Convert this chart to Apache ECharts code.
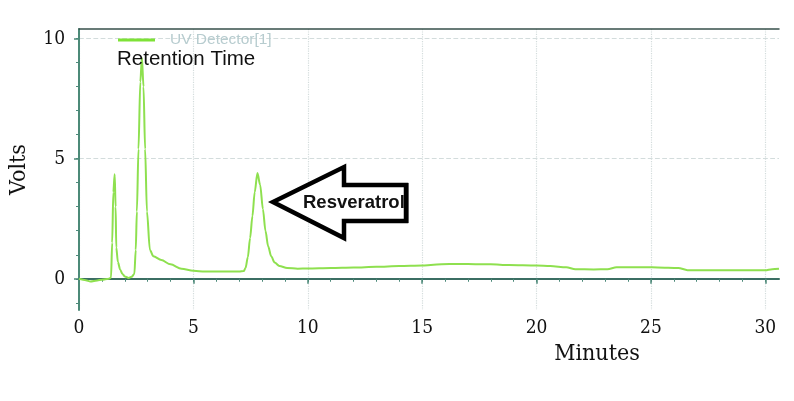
<!DOCTYPE html>
<html>
<head>
<meta charset="utf-8">
<script src="https://cdn.jsdelivr.net/npm/echarts@6/dist/echarts.min.js"></script>
<style>
  html, body { margin: 0; padding: 0; background: #fff; }
  #chart { width: 794px; height: 401px; }
</style>
</head>
<body>
<div id="chart"></div>
<script>
// retention time (min) and detector signal (V)
var minutes = [0, 0.3, 0.5, 0.8, 1.0, 1.3, 1.4, 1.45, 1.5, 1.56, 1.6, 1.63, 1.7, 1.8, 1.9, 2.0, 2.17, 2.3,
  2.42, 2.48, 2.53, 2.6, 2.68, 2.75, 2.82, 2.89, 2.97, 3.1, 3.25, 3.6, 4.0, 4.48, 5.0, 5.5, 6.0, 6.5,
  7.0, 7.2, 7.28, 7.38, 7.48, 7.58, 7.68, 7.8, 7.92, 8.04, 8.15, 8.27, 8.4, 8.55, 8.76, 9.1, 9.56, 10,
  11, 12, 13, 14, 15, 15.5, 16.2, 17, 18, 18.8, 20, 20.6, 21.3, 21.7, 22.5, 23.1, 23.5, 24.8, 25.3,
  26.2, 26.6, 28, 30, 30.3, 30.6];
var volts = [0, -0.06, -0.11, -0.07, -0.04, 0, 0.05, 1.5, 3.6, 4.35, 3.0, 1.3, 0.7, 0.38, 0.2, 0.1, 0.03, 0.08,
  0.2, 1.2, 2.8, 5.4, 8.2, 9.2, 8.0, 5.4, 2.8, 1.2, 0.94, 0.78, 0.6, 0.42, 0.33, 0.3, 0.3, 0.3,
  0.3, 0.32, 0.45, 0.9, 1.7, 2.6, 3.6, 4.4, 3.9, 2.9, 2.0, 1.35, 0.94, 0.68, 0.53, 0.45, 0.42, 0.43,
  0.45, 0.47, 0.5, 0.53, 0.55, 0.58, 0.62, 0.62, 0.6, 0.57, 0.55, 0.53, 0.48, 0.4, 0.39, 0.4, 0.48, 0.48, 0.47,
  0.45, 0.36, 0.35, 0.35, 0.4, 0.42];
var xTicks = [0, 5, 10, 15, 20, 25, 30];
var xMinor = [0, 1, 2, 3, 4, 5, 6, 7, 8, 9, 10, 11, 12, 13, 14, 15, 16, 17, 18, 19, 20, 21, 22, 23, 24, 25, 26, 27, 28, 29, 30];
var yTicks = [0, 5, 10];
var yMinor = [-1, 0, 1, 2, 3, 4, 5, 6, 7, 8, 9, 10];

var serif = "'DejaVu Serif Condensed', 'Liberation Serif', serif";
var sans = "'Liberation Sans', Arial, sans-serif";

var pts = [];
for (var i = 0; i < minutes.length; i++) pts.push([minutes[i], volts[i]]);

var myChart = echarts.init(document.getElementById("chart"));
var option = {
  animation: false,
  title: {
    text: "Retention Time",
    left: 117,
    top: 49,
    padding: 0,
    textStyle: { color: "#111", fontFamily: sans, fontSize: 20.5, fontWeight: "normal" },
    z: 10
  },
  legend: {
    left: 118,
    top: 32,
    padding: 0,
    icon: "rect",
    itemWidth: 37,
    itemHeight: 3,
    data: [{ name: "UV Detector[1]", itemStyle: { color: "#7ee236" } }],
    textStyle: { color: "#b7cccf", fontFamily: sans, fontSize: 15.5, padding: [0, 0, 0, 10] }
  },
  grid: { left: 77, right: 15, top: 29, bottom: 91 },
  xAxis: [
    {
      type: "value",
      min: 0,
      max: 30.6,
      name: "Minutes",
      nameLocation: "middle",
      nameGap: 31,
      nameTextStyle: { color: "#111", fontFamily: serif, fontSize: 23, padding: [0, 0, 0, 336] },
      axisLine: { show: true, lineStyle: { color: "#3b6e63", width: 2 } },
      axisTick: { show: true, customValues: xTicks, length: 5, lineStyle: { color: "#4d8a7a", width: 1.5 } },
      axisLabel: { customValues: xTicks, color: "#111", fontFamily: serif, fontSize: 19, margin: 9 },
      splitLine: { show: true, lineStyle: { color: "#d3dcdc", type: "dotted", width: 1.2 } }
    },
    {
      type: "value",
      min: 0,
      max: 30.6,
      position: "bottom",
      axisLine: { show: false },
      axisTick: { show: true, customValues: xMinor, length: 3, lineStyle: { color: "#4d8a7a" } },
      axisLabel: { show: false },
      splitLine: { show: false }
    },
    {
      type: "value",
      min: 0,
      max: 30.6,
      position: "top",
      axisLine: { show: true, lineStyle: { color: "#37504b", width: 1.5 } },
      axisTick: { show: false },
      axisLabel: { show: false },
      splitLine: { show: false }
    }
  ],
  yAxis: [
    {
      type: "value",
      min: -1.3,
      max: 10.4,
      name: "Volts",
      nameLocation: "middle",
      nameGap: 48,
      nameTextStyle: { color: "#111", fontFamily: serif, fontSize: 23 },
      axisLine: { show: true, lineStyle: { color: "#4c8a78", width: 2 } },
      axisTick: { show: true, customValues: yTicks, length: 5, lineStyle: { color: "#4d8a7a", width: 1.5 } },
      axisLabel: { customValues: yTicks, color: "#111", fontFamily: serif, fontSize: 19, margin: 14 },
      splitLine: { show: true, lineStyle: { color: "#d3dcdc", type: "dashed", width: 1.2 } }
    },
    {
      type: "value",
      min: -1.3,
      max: 10.4,
      position: "left",
      axisLine: { show: false },
      axisTick: { show: true, customValues: yMinor, length: 3, lineStyle: { color: "#4d8a7a" } },
      axisLabel: { show: false },
      splitLine: { show: false }
    }
  ],
  series: [
    {
      name: "UV Detector[1]",
      type: "line",
      data: pts,
      showSymbol: false,
      smooth: 0.3,
      smoothMonotone: "x",
      lineStyle: { color: "#8ee04f", width: 2 },
      itemStyle: { color: "#8ee04f" },
      z: 3
    }
  ],
  graphic: [
    {
      type: "polygon",
      z: 20,
      shape: { points: [[273, 202], [344, 167], [344, 185], [406, 185], [406, 221], [344, 221], [344, 238]] },
      style: { fill: "#fff", stroke: "#000", lineWidth: 4.5, lineJoin: "miter" }
    },
    {
      type: "text",
      z: 21,
      left: 303,
      top: 193,
      style: { text: "Resveratrol", fill: "#111", font: "bold 18.5px " + sans }
    },
    {
      type: "rect",
      z: 22,
      shape: { x: 404, y: 183, width: 4.5, height: 40 },
      style: { fill: "#000" }
    }
  ]
};
myChart.setOption(option);
window.addEventListener("resize", function () {
  myChart.resize();
});
</script>
</body>
</html>
